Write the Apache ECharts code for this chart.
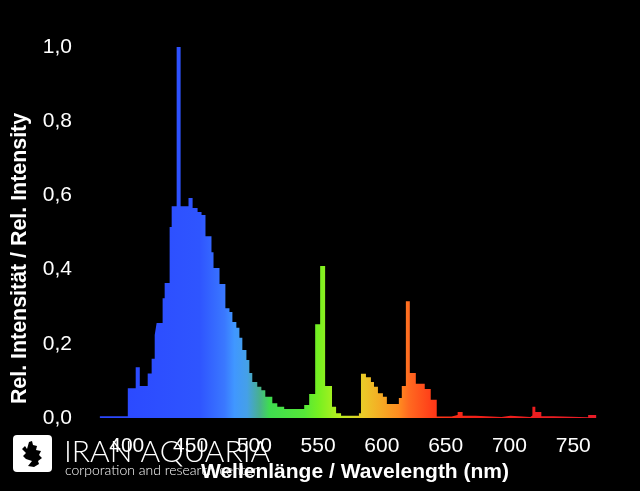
<!DOCTYPE html>
<html><head><meta charset="utf-8">
<style>html,body{margin:0;padding:0;background:#000}#c{width:640px;height:491px}</style>
<script src="https://cdn.jsdelivr.net/npm/echarts@6/dist/echarts.min.js"></script>
</head><body><div id="c"></div>
<script>
const wavelengths=[378.9,400.8,402.3,407.0,410.2,416.4,419.5,421.9,423.4,428.1,429.7,433.6,435.2,439.1,442.2,448.4,451.6,455.5,458.6,461.7,466.4,468.0,472.7,477.3,480.5,482.8,485.9,488.3,490.6,493.8,496.1,498.4,502.3,505.5,508.6,514.1,518.0,523.4,539.1,543.0,547.7,551.6,555.5,560.9,564.1,568.0,582.0,583.6,587.5,591.4,593.8,596.9,600.8,603.9,613.3,615.6,618.8,621.9,626.6,633.6,638.3,643.0,650.0,654.7,659.4,663.3,673.4,693.8,700.8,716.4,718.0,720.3,725.0,734.4,761.7,768.0];
const intensity=[0.005,0.08,0.08,0.137,0.086,0.12,0.16,0.224,0.256,0.323,0.364,0.515,0.571,1.0,0.571,0.593,0.566,0.555,0.547,0.49,0.447,0.404,0.361,0.296,0.286,0.259,0.243,0.216,0.183,0.156,0.121,0.097,0.084,0.075,0.057,0.04,0.03,0.024,0.035,0.065,0.253,0.41,0.086,0.03,0.013,0.006,0.013,0.119,0.11,0.097,0.084,0.067,0.057,0.038,0.054,0.086,0.315,0.121,0.092,0.078,0.049,0.004,0.004,0.008,0.016,0.006,0.003,0.006,0.003,0.007,0.03,0.016,0.005,0.002,0.008,0];
const xTicks=[400,450,500,550,600,650,700,750];
const yTickLabels=['0,0','0,2','0,4','0,6','0,8','1,0'];
const xTitle='Wellenlänge / Wavelength (nm)';
const yTitle='Rel. Intensität / Rel. Intensity';
const brand='IRAN AQUARIA';
const brandSub='corporation and research center';
const spectrum=[[0,'#2a46ff'],[0.2,'#2f55ff'],[0.25,'#3a78ff'],[0.27,'#4097ff'],[0.295,'#45a0e8'],[0.32,'#48b090'],[0.34,'#3fdc50'],[0.41,'#55e838'],[0.44,'#78f020'],[0.48,'#b8f020'],[0.53,'#ecc828'],[0.6,'#ff8c20'],[0.62,'#ff6a20'],[0.67,'#ff3a18'],[0.75,'#f02018'],[1,'#e81c28']].map(([offset,color])=>({offset,color}));
const FONT='"Liberation Sans",Arial,sans-serif';
const chart=echarts.init(document.getElementById('c'));
chart.setOption({
 backgroundColor:'#000',animation:false,
 grid:{left:63,right:1,top:47,bottom:73},
 xAxis:{type:'value',min:350,max:800,interval:50,
  axisLine:{show:false},axisTick:{show:false},splitLine:{show:false},
  axisLabel:{color:'#fff',fontSize:21,fontFamily:FONT,margin:18,
   formatter:v=>xTicks.includes(v)?String(v):''},
  name:xTitle,nameLocation:'middle',nameGap:44,
  nameTextStyle:{color:'#fff',fontSize:21,fontWeight:'bold',fontFamily:FONT,padding:[0,0,0,10]}},
 yAxis:{type:'value',min:0,max:1,interval:0.2,
  axisLine:{show:false},axisTick:{show:false},splitLine:{show:false},
  axisLabel:{color:'#fff',fontSize:21,fontFamily:FONT,margin:-9,
   formatter:v=>yTickLabels[Math.round(v*5)]},
  name:yTitle,nameLocation:'middle',nameGap:32,
  nameTextStyle:{color:'#fff',fontSize:21.4,fontWeight:'bold',fontFamily:FONT,padding:[0,52,0,0]}},
 series:[{type:'line',step:'end',symbol:'none',silent:true,
  data:wavelengths.map((w,i)=>[w,intensity[i]]),
  lineStyle:{width:0},
  areaStyle:{opacity:1,color:new echarts.graphic.LinearGradient(100,0,598,0,spectrum,true)}}],
 graphic:[
  {type:'rect',shape:{x:13,y:435,width:39,height:37,r:4},style:{fill:'#fff'},z:10},
  {type:'polygon',shape:{points:[[22,449],[25,446],[27,449],[29,442],[32,441],[33,445],[37,446],[36,450],[41,451],[39,455],[42,458],[38,461],[39,464],[34,467],[28,466],[32,461],[26,459],[23,456],[26,453]]},style:{fill:'#000'},z:11},
  {type:'text',x:64,y:437,style:{text:brand,fill:'#fff',font:'300 30px Lato, sans-serif'},z:12},
  {type:'text',x:65,y:463,style:{text:brandSub,fill:'#fff',font:'300 14px Lato, sans-serif'},z:9}
 ]
});
</script></body></html>
